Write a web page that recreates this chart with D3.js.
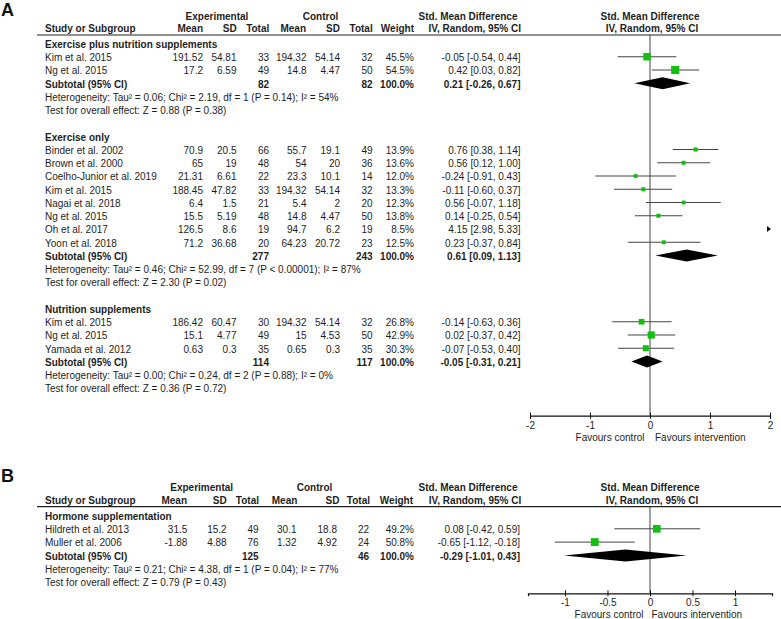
<!DOCTYPE html>
<html><head><meta charset="utf-8">
<script src="https://cdn.jsdelivr.net/npm/d3@7"></script>
<style>
body{margin:0;background:#fff;}
svg text{font-family:"Liberation Sans",Arial,sans-serif;font-size:10px;fill:#1e1e1e;}
</style></head>
<body><svg id="c" width="781" height="619"></svg>
<script>
// ---------- Panel A data ----------
const groupNamesA = ["Exercise plus nutrition supplements", "Exercise only", "Nutrition supplements"];

const studies1 = ["Kim et al. 2015", "Ng et al. 2015"];
const expMean1 = [191.52, 17.2], expSD1 = [54.81, 6.59], expN1 = [33, 49];
const ctlMean1 = [194.32, 14.8], ctlSD1 = [54.14, 4.47], ctlN1 = [32, 50];
const weight1 = [45.5, 54.5], smd1 = [-0.05, 0.42], lo1 = [-0.54, 0.03], hi1 = [0.44, 0.82];

const studies2 = ["Binder et al. 2002", "Brown et al. 2000", "Coelho-Junior et al. 2019", "Kim et al. 2015", "Nagai et al. 2018", "Ng et al. 2015", "Oh et al. 2017", "Yoon et al. 2018"];
const expMean2 = [70.9, 65, 21.31, 188.45, 6.4, 15.5, 126.5, 71.2];
const expSD2 = [20.5, 19, 6.61, 47.82, 1.5, 5.19, 8.6, 36.68];
const expN2 = [66, 48, 22, 33, 21, 48, 19, 20];
const ctlMean2 = [55.7, 54, 23.3, 194.32, 5.4, 14.8, 94.7, 64.23];
const ctlSD2 = [19.1, 20, 10.1, 54.14, 2, 4.47, 6.2, 20.72];
const ctlN2 = [49, 36, 14, 32, 20, 50, 19, 23];
const weight2 = [13.9, 13.6, 12.0, 13.3, 12.3, 13.8, 8.5, 12.5];
const smd2 = [0.76, 0.56, -0.24, -0.11, 0.56, 0.14, 4.15, 0.23];
const lo2 = [0.38, 0.12, -0.91, -0.60, -0.07, -0.25, 2.98, -0.37];
const hi2 = [1.14, 1.00, 0.43, 0.37, 1.18, 0.54, 5.33, 0.84];

const studies3 = ["Kim et al. 2015", "Ng et al. 2015", "Yamada et al. 2012"];
const expMean3 = [186.42, 15.1, 0.63], expSD3 = [60.47, 4.77, 0.3], expN3 = [30, 49, 35];
const ctlMean3 = [194.32, 15, 0.65], ctlSD3 = [54.14, 4.53, 0.3], ctlN3 = [32, 50, 35];
const weight3 = [26.8, 42.9, 30.3], smd3 = [-0.14, 0.02, -0.07], lo3 = [-0.63, -0.37, -0.53], hi3 = [0.36, 0.42, 0.40];

// subtotals A (groups 1..3)
const subExpNA = [82, 277, 114], subCtlNA = [82, 243, 117];
const subSmdA = [0.21, 0.61, -0.05], subLoA = [-0.26, 0.09, -0.31], subHiA = [0.67, 1.13, 0.21];
const hetTauA = ["0.06", "0.46", "0.00"], hetChiA = ["2.19", "52.99", "0.24"], hetDfA = [1, 7, 2];
const hetPA = ["= 0.14", "< 0.00001", "= 0.88"], hetI2A = [54, 87, 0];
const zA = ["0.88", "2.30", "0.36"], zPA = ["0.38", "0.02", "0.72"];
const ticksA = [-2, -1, 0, 1, 2];

// ---------- Panel B data ----------
const groupNamesB = ["Hormone supplementation"];
const studiesB = ["Hildreth et al. 2013", "Muller et al. 2006"];
const expMeanB = [31.5, -1.88], expSDB = [15.2, 4.88], expNB = [49, 76];
const ctlMeanB = [30.1, 1.32], ctlSDB = [18.8, 4.92], ctlNB = [22, 24];
const weightB = [49.2, 50.8], smdB = [0.08, -0.65], loB = [-0.42, -1.12], hiB = [0.59, -0.18];
const subExpNB = [125], subCtlNB = [46], subSmdB = [-0.29], subLoB = [-1.01], subHiB = [0.43];
const hetTauB = ["0.21"], hetChiB = ["4.38"], hetDfB = [1], hetPB = ["= 0.04"], hetI2B = [77];
const zB = ["0.79"], zPB = ["0.43"];
const ticksB = [-1, -0.5, 0, 0.5, 1];

const axisLabels = ["Favours control", "Favours intervention"];

// ---------- build tables ----------
function mkStudies(names, em, es, en, cm, cs, cn, w, s, l, h) {
  return names.map((n, i) => ({name: n, em: em[i], es: es[i], en: en[i], cm: cm[i], cs: cs[i], cn: cn[i], w: w[i], smd: s[i], lo: l[i], hi: h[i]}));
}
const groupsA = [
  mkStudies(studies1, expMean1, expSD1, expN1, ctlMean1, ctlSD1, ctlN1, weight1, smd1, lo1, hi1),
  mkStudies(studies2, expMean2, expSD2, expN2, ctlMean2, ctlSD2, ctlN2, weight2, smd2, lo2, hi2),
  mkStudies(studies3, expMean3, expSD3, expN3, ctlMean3, ctlSD3, ctlN3, weight3, smd3, lo3, hi3)
].map((st, g) => ({title: groupNamesA[g], studies: st, en: subExpNA[g], cn: subCtlNA[g], smd: subSmdA[g], lo: subLoA[g], hi: subHiA[g],
  het: `Heterogeneity: Tau² = ${hetTauA[g]}; Chi² = ${hetChiA[g]}, df = ${hetDfA[g]} (P ${hetPA[g]}); I² = ${hetI2A[g]}%`,
  test: `Test for overall effect: Z = ${zA[g]} (P = ${zPA[g]})`}));
const groupsB = [mkStudies(studiesB, expMeanB, expSDB, expNB, ctlMeanB, ctlSDB, ctlNB, weightB, smdB, loB, hiB)]
  .map((st, g) => ({title: groupNamesB[g], studies: st, en: subExpNB[g], cn: subCtlNB[g], smd: subSmdB[g], lo: subLoB[g], hi: subHiB[g],
  het: `Heterogeneity: Tau² = ${hetTauB[g]}; Chi² = ${hetChiB[g]}, df = ${hetDfB[g]} (P ${hetPB[g]}); I² = ${hetI2B[g]}%`,
  test: `Test for overall effect: Z = ${zB[g]} (P = ${zPB[g]})`}));

const svg = d3.select("#c");
const GREEN = "#12c012";
const sizeScale = d3.scaleSqrt().domain([0, 100]).range([0, 11]);
const f2 = v => v.toFixed(2);
const ci = d => `${f2(d.smd)} [${f2(d.lo)}, ${f2(d.hi)}]`;

function txt(g, x, y, s, anchor, bold) {
  return g.append("text").attr("x", x).attr("y", y).attr("text-anchor", anchor || "start")
    .style("font-weight", bold ? "bold" : null).text(s);
}

function panel(cfg) {
  const g = svg.append("g");
  const x = d3.scaleLinear().domain(cfg.domain).range(cfg.range);
  const C = cfg.cols;
  // panel letter
  g.append("text").attr("x", 1).attr("y", cfg.letterY).text(cfg.letter)
    .style("font-size", "18px").style("font-weight", "bold").style("fill", "#111");
  // headers
  const h1 = cfg.headY1, h2 = cfg.headY2;
  txt(g, cfg.expHead, h1, "Experimental", "middle", true);
  txt(g, cfg.ctlHead, h1, "Control", "middle", true);
  txt(g, cfg.smdHead1, h1, "Std. Mean Difference", "middle", true);
  txt(g, cfg.smdHead2, h2, "IV, Random, 95% CI", "middle", true);
  txt(g, 650, h1, "Std. Mean Difference", "middle", true);
  txt(g, 652, h2, "IV, Random, 95% CI", "middle", true);
  txt(g, 45, h2, "Study or Subgroup", "start", true);
  txt(g, C.hem, h2, "Mean", "end", true);
  txt(g, C.hes, h2, "SD", "end", true);
  txt(g, C.hen, h2, "Total", "end", true);
  txt(g, C.hcm, h2, "Mean", "end", true);
  txt(g, C.hcs, h2, "SD", "end", true);
  txt(g, C.hcn, h2, "Total", "end", true);
  txt(g, C.hw, h2, "Weight", "end", true);
  g.append("line").attr("x1", 37).attr("x2", 781).attr("y1", cfg.lineY).attr("y2", cfg.lineY)
    .attr("stroke", "#222").attr("stroke-width", 1.2);
  // zero line
  g.append("line").attr("x1", x(0)).attr("x2", x(0)).attr("y1", cfg.lineY).attr("y2", cfg.axisY)
    .attr("stroke", "#444").attr("stroke-width", 1);

  let row = 0;
  const yc = r => cfg.rowY0 + r * cfg.step;
  const B = 3.5;
  cfg.groups.forEach(grp => {
    txt(g, 45, yc(row) + B, grp.title, "start", true); row++;
    grp.studies.forEach(d => {
      const y = yc(row);
      txt(g, 45, y + B, d.name);
      txt(g, C.em, y + B, String(d.em), "end");
      txt(g, C.es, y + B, String(d.es), "end");
      txt(g, C.en, y + B, String(d.en), "end");
      txt(g, C.cm, y + B, String(d.cm), "end");
      txt(g, C.cs, y + B, String(d.cs), "end");
      txt(g, C.cn, y + B, String(d.cn), "end");
      txt(g, C.w, y + B, d.w.toFixed(1) + "%", "end");
      txt(g, C.smd, y + B, ci(d), "end");
      const [dmin, dmax] = cfg.domain;
      const ym = y - 0.8;
      if (d.lo > dmax) {
        const ax = x(dmax);
        g.append("path").attr("d", `M${ax - 3},${ym - 3}L${ax + 1},${ym}L${ax - 3},${ym + 3}Z`).attr("fill", "#111");
      } else {
        g.append("line").attr("x1", x(Math.max(d.lo, dmin))).attr("x2", x(Math.min(d.hi, dmax)))
          .attr("y1", ym).attr("y2", ym).attr("stroke", "#444").attr("stroke-width", 1);
        const s = sizeScale(d.w);
        g.append("rect").attr("x", x(d.smd) - s / 2).attr("y", ym - s / 2).attr("width", s).attr("height", s).attr("fill", GREEN);
      }
      row++;
    });
    const y = yc(row);
    txt(g, 45, y + B, "Subtotal (95% CI)", "start", true);
    txt(g, C.en, y + B, String(grp.en), "end", true);
    txt(g, C.cn, y + B, String(grp.cn), "end", true);
    txt(g, C.w, y + B, "100.0%", "end", true);
    txt(g, C.smd, y + B, ci(grp), "end", true);
    const ym = y - 0.8;
    g.append("path").attr("d", `M${x(grp.lo)},${ym}L${x(grp.smd)},${ym - 6}L${x(grp.hi)},${ym}L${x(grp.smd)},${ym + 6}Z`).attr("fill", "#000");
    row++;
    txt(g, 45, yc(row) + B, grp.het); row++;
    txt(g, 45, yc(row) + B, grp.test); row++;
    row++;
  });

  // axis
  const ax = g.append("g").attr("transform", `translate(0,${cfg.axisY})`)
    .call(d3.axisBottom(x).tickValues(cfg.ticks).tickSizeOuter(0).tickSize(3).tickFormat(d => String(d)));
  ax.select(".domain").attr("stroke", "#111").attr("stroke-width", 1.2);
  ax.selectAll(".tick line").attr("y1", -3).attr("y2", 3).attr("stroke", "#111");
  ax.selectAll(".tick text").attr("y", 13).attr("dy", null).style("font-size", "10px")
    .style("font-family", '"Liberation Sans",Arial,sans-serif').attr("fill", "#1e1e1e");
  txt(g, cfg.favL, cfg.axisY + 25, axisLabels[0], "end");
  txt(g, cfg.favR, cfg.axisY + 25, axisLabels[1], "start");
}

panel({
  letter: "A", letterY: 16, groups: groupsA, domain: [-2, 2], range: [530, 770], ticks: ticksA,
  headY1: 19.5, headY2: 32.2, lineY: 35, rowY0: 44.3, step: 13.25, axisY: 415.7,
  expHead: 217, ctlHead: 320.5, smdHead1: 468, smdHead2: 474.7, favL: 644.5, favR: 655,
  cols: {em: 203, es: 236.5, en: 269, cm: 306.5, cs: 340, cn: 372.7, w: 414, smd: 520.5,
         hem: 203, hes: 236.7, hen: 269.3, hcm: 306, hcs: 340, hcn: 372.7, hw: 414}
});
panel({
  letter: "B", letterY: 482, groups: groupsB, domain: [-1.435, 1.435], range: [528, 772], ticks: ticksB,
  headY1: 490.8, headY2: 504.2, lineY: 506.7, rowY0: 516.3, step: 13.3, axisY: 593.3,
  expHead: 201.7, ctlHead: 314.5, smdHead1: 468, smdHead2: 475, favL: 643.5, favR: 651.5,
  cols: {em: 187.3, es: 226.7, en: 258.7, cm: 296.5, cs: 337, cn: 369, w: 414, smd: 520,
         hem: 187, hes: 226.7, hen: 259, hcm: 297.3, hcs: 339.5, hcn: 370, hw: 413}
});
</script></body></html>
